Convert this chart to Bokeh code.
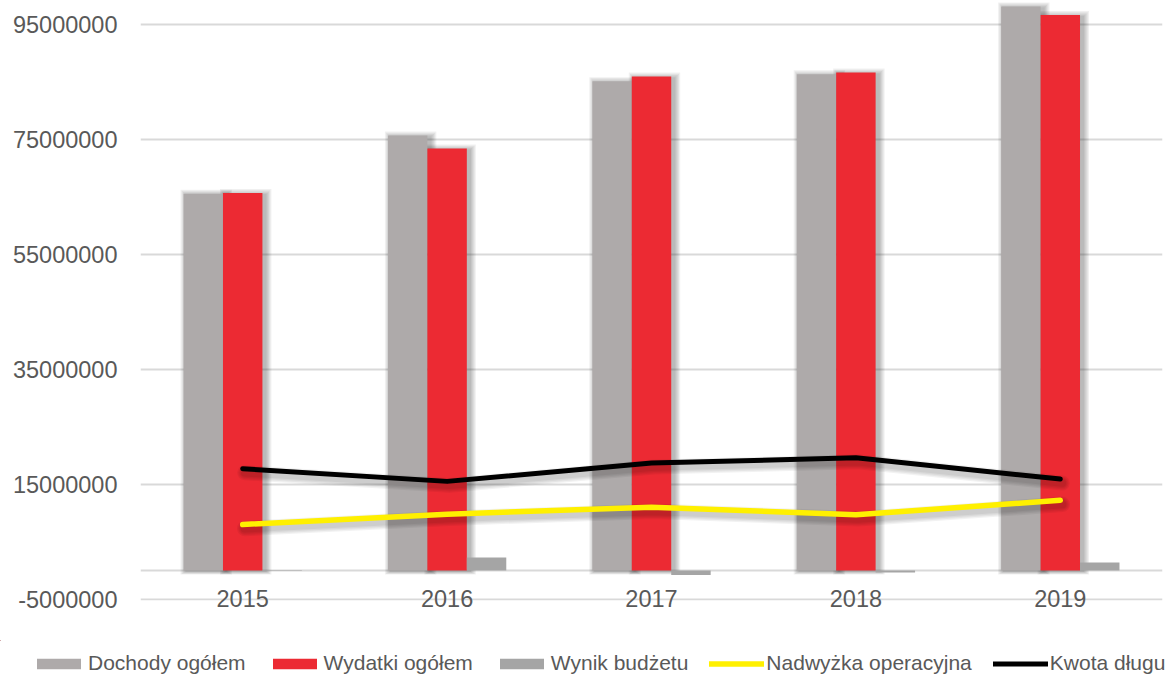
import numpy as np
from bokeh.plotting import figure
from bokeh.models import (ColumnDataSource, Range1d, FixedTicker, Span, Legend,
                          LegendItem)
from bokeh.transform import dodge
from bokeh.embed import file_html
from bokeh.resources import INLINE

# ---------------- data ----------------
years = ["2015", "2016", "2017", "2018", "2019"]
dochody = [65540000, 75650000, 85100000, 86300000, 98100000]
wydatki = [65640000, 73400000, 85900000, 86600000, 96600000]
wynik = [-100000, 2250000, -800000, -330000, 1400000]
nadwyzka = [8000000, 9800000, 11000000, 9700000, 12200000]
kwota = [17700000, 15500000, 18700000, 19600000, 15900000]
y_ticks = [-5000000, 15000000, 35000000, 55000000, 75000000, 95000000]
y_tick_labels = ["-5000000", "15000000", "35000000", "55000000", "75000000", "95000000"]
series_names = ["Dochody ogółem", "Wydatki ogółem", "Wynik budżetu",
                "Nadwyżka operacyjna", "Kwota długu"]

# ---------------- style ----------------
C_DOCH = "#AEAAAA"
C_WYD = "#EC2A33"
C_WYN = "#A5A5A5"
C_NAD = "#FFF000"
C_KW = "#000000"
C_TXT = "#595959"
C_GRID = "#D9D9D9"
FONT = "Liberation Sans"

W, H = 1168, 640
LEG_H = 35
BL, BR, BT, BB = 140, 6, 0, 40
X0, X1 = -0.5, 4.5
Y0, Y1 = -5217000, 99130000
ux = (X1 - X0) / (W - BL - BR)      # data units per px (x)
uy = (Y1 - Y0) / (H - BT - BB)      # data units per px (y)
bw = 0.193

src = ColumnDataSource(dict(x=list(range(len(years))), dochody=dochody,
                            wydatki=wydatki, wynik=wynik, nadwyzka=nadwyzka,
                            kwota=kwota, zero=[0] * len(years)))

p = figure(width=W, height=H, x_range=Range1d(X0, X1), y_range=Range1d(Y0, Y1),
           output_backend="svg", toolbar_location=None,
           min_border_left=BL, min_border_right=BR, min_border_top=BT,
           min_border_bottom=BB)
p.outline_line_color = None
p.background_fill_color = "white"
p.xgrid.visible = False
p.ygrid.ticker = FixedTicker(ticks=y_ticks)
p.ygrid.grid_line_color = C_GRID
p.ygrid.grid_line_width = 2

zero_line = Span(location=0, dimension="width", line_color=C_GRID,
                 line_width=2, level="underlay")
p.add_layout(zero_line)

# ----- bar shadows (soft, offset right/down) -----
for off, f in zip([-bw, 0], ["dochody", "wydatki"]):
    for k in range(1, 6):
        p.vbar(x=dodge("x", off + 3 * ux), width=bw + 2 * k * 1.2 * ux,
               top=dodge(f, (k * 1.2 - 2) * uy),
               bottom=dodge("zero", -(1 + k * 0.6) * uy),
               source=src, fill_color="black", fill_alpha=0.06, line_color=None)

# ----- bars -----
p.vbar(x=dodge("x", -bw), top="dochody", width=bw, source=src,
       fill_color=C_DOCH, line_color=None)
p.vbar(x=dodge("x", 0), top="wydatki", width=bw, source=src,
       fill_color=C_WYD, line_color=None)
p.vbar(x=dodge("x", bw), top="wynik", width=bw, source=src,
       fill_color=C_WYN, line_color=None)

# ----- line shadows -----
for f, lw in (("nadwyzka", 5.5), ("kwota", 5)):
    for k in range(1, 5):
        p.line(x=dodge("x", 2 * ux), y=dodge(f, -4 * uy), source=src,
               line_width=lw + 2.5 * k, line_color="black", line_alpha=0.05,
               line_cap="round", line_join="round")

p.line("x", "nadwyzka", source=src, line_width=5.5, line_color=C_NAD,
       line_cap="round", line_join="round")
p.line("x", "kwota", source=src, line_width=5, line_color=C_KW,
       line_cap="round", line_join="round")

# ----- axes -----
p.yaxis.ticker = FixedTicker(ticks=y_ticks)
p.yaxis.major_label_overrides = {t: l for t, l in zip(y_ticks, y_tick_labels)}
p.xaxis.ticker = FixedTicker(ticks=list(range(len(years))))
p.xaxis.major_label_overrides = {i: y for i, y in enumerate(years)}
for ax in (p.xaxis, p.yaxis):
    ax.axis_line_color = None
    ax.major_tick_line_color = None
    ax.minor_tick_line_color = None
    ax.major_tick_out = 0
    ax.major_label_text_font = FONT
    ax.major_label_text_font_size = "23.5px"
    ax.major_label_text_color = C_TXT
p.yaxis.major_label_standoff = 23
p.xaxis.major_label_standoff = -11

# ----- legend (separate strip below the chart) -----
# zero-height glyphs lying outside both ranges: they only supply the legend's swatches
q = figure(width=W, height=LEG_H, x_range=Range1d(100, 101),
           y_range=Range1d(-2.0e8, -1.9e8),
           output_backend="svg", toolbar_location=None,
           x_axis_type=None, y_axis_type=None,
           min_border_left=0, min_border_right=0, min_border_top=0,
           min_border_bottom=0)
q.outline_line_color = None
q.xgrid.visible = False
q.ygrid.visible = False
lr = [
    q.vbar(x="x", top="zero", width=bw, source=src, fill_color=C_DOCH, line_color=None),
    q.vbar(x="x", top="zero", width=bw, source=src, fill_color=C_WYD, line_color=None),
    q.vbar(x="x", top="zero", width=bw, source=src, fill_color=C_WYN, line_color=None),
    q.line(x="x", y="zero", source=src, line_width=5.5, line_color=C_NAD, line_cap="round"),
    q.line(x="x", y="zero", source=src, line_width=5, line_color=C_KW, line_cap="round"),
]
legend = Legend(items=[LegendItem(label=n, renderers=[r])
                       for n, r in zip(series_names, lr)],
                orientation="horizontal", location=(31, 0),
                glyph_width=55, glyph_height=13, label_standoff=2, spacing=21,
                padding=0, margin=0, border_line_color=None,
                background_fill_alpha=0, label_text_font=FONT,
                label_text_font_size="21px", label_text_color=C_TXT)
q.add_layout(legend)

open("out.html", "w").write(file_html([p, q], INLINE))
